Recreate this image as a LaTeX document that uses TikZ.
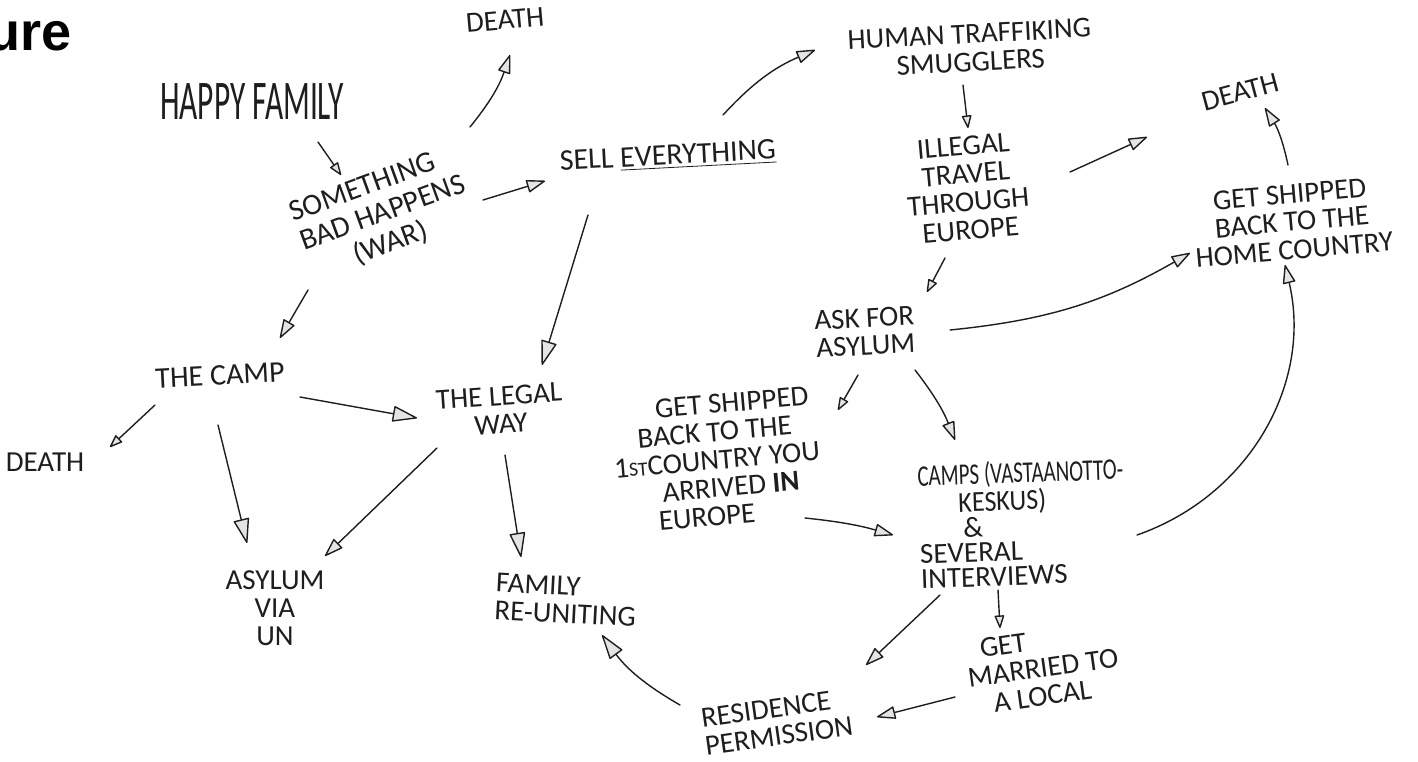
\documentclass[tikz,border=0pt]{standalone}
\usepackage{fontspec}
\usepackage{graphicx}
\usepackage{tikz}
\usetikzlibrary{arrows.meta}
\newfontfamily\handfont{Carlito}
\newfontfamily\titlefont{Liberation Sans}
\definecolor{ink}{HTML}{1E1E1E}
\definecolor{tipfill}{HTML}{E4E4E4}
\tikzset{
	hand/.style={font=\handfont\fontsize{14.5}{14}\selectfont, text=ink, align=center, inner sep=1pt},
	flow/.style={draw=ink, line width=0.7pt, line cap=round,
		-{Triangle[length=10pt,width=6.5pt,fill=tipfill,line join=round]}},
	bigflow/.style={flow, -{Triangle[length=13pt,width=8pt,fill=tipfill,line join=round]}},
	smallflow/.style={flow, -{Triangle[length=7pt,width=5pt,fill=tipfill,line join=round]}},
}
\begin{document}
\begin{tikzpicture}[x=0.5pt, y=-0.5pt]
	\useasboundingbox (0,0) rectangle (1418,761);
	\clip (0,0) rectangle (1418,761);
	\node[anchor=base east, inner sep=0pt, font=\titlefont\bfseries\fontsize{27}{27}\selectfont] (title) at (72,50) {ure};
	% left half
	\node[hand, font=\handfont\fontsize{28}{28}\selectfont, xscale=0.56] (happy) at (252,102) {HAPPY FAMILY};
	\node[hand, rotate=20, align=left, font=\handfont\fontsize{15}{15.5}\selectfont] (bad) at (383,214) {SOMETHING\\BAD HAPPENS\\\hspace*{1.5em}(WAR)};
	\node[hand, rotate=5] (death1) at (505,20) {DEATH};
	\node[hand, rotate=3, font=\handfont\fontsize{15}{15}\selectfont] (sell) at (668,157) {SELL \underline{EVERYTHING}};
	\node[hand, rotate=3, font=\handfont\fontsize{15}{15}\selectfont] (camp) at (220,375) {THE CAMP};
	\node[hand] (death3) at (45,462) {DEATH};
	\node[hand, rotate=4] (legal) at (500,410) {THE LEGAL\\WAY};
	\node[hand] (asylum) at (275,608) {ASYLUM\\VIA\\UN};
	\node[hand, rotate=-3, align=left] (family) at (566,600) {FAMILY\\RE-UNITING};
	\node[hand, rotate=8, align=left] (residence) at (777,722) {RESIDENCE\\PERMISSION};
	% right half
	\node[hand, rotate=3] (human) at (970,48) {HUMAN TRAFFIKING\\SMUGGLERS};
	\node[hand, rotate=5] (illegal) at (967,188) {ILLEGAL\\TRAVEL\\THROUGH\\EUROPE};
	\node[hand, rotate=15] (death2) at (1240,92) {DEATH};
	\node[hand, rotate=5] (home) at (1292,222) {GET SHIPPED\\BACK TO THE\\HOME COUNTRY};
	\node[hand, rotate=3] (ask) at (865,332) {ASK FOR\\ASYLUM};
	\node[hand, rotate=5, align=left] (first) at (717,460) {\hspace*{23pt}GET SHIPPED\\\hspace*{13pt}BACK TO THE\\1{\fontsize{10}{10}\selectfont ST}COUNTRY YOU\\\hspace*{23pt}ARRIVED \textbf{IN}\\\hspace*{20pt}EUROPE};
	\node[hand, rotate=2, align=left, font=\handfont\fontsize{14.5}{12.5}\selectfont] (camps) at (1022,523) {\scalebox{0.7}[1]{\fontsize{15}{12.5}\selectfont CAMPS (VASTAANOTTO-}\\\hspace*{20pt}\scalebox{0.9}[1]{KESKUS)}\\\hspace*{22pt}\&\\SEVERAL\\INTERVIEWS};
	\node[hand, rotate=8, align=left] (married) at (1043,668) {\hspace*{8pt}GET\\MARRIED TO\\\hspace*{11pt}A LOCAL};

	\draw[smallflow] ([shift={(66,40)}]happy.center) -- ([shift={(-42,-39)}]bad.center);
	\draw[flow] ([shift={(87,-87)}]bad.center) to[bend right=10] ([shift={(5,35)}]death1.center);
	\draw[flow] ([shift={(100,-14)}]bad.center) -- ([shift={(-123,24)}]sell.center);
	\draw[flow] ([shift={(-75,76)}]bad.center) -- ([shift={(60,-37)}]camp.center);
	\draw[flow] ([shift={(55,-42)}]sell.center) to[bend left=12] ([shift={(-155,2)}]human.center);
	\draw[bigflow] ([shift={(-80,58)}]sell.center) -- ([shift={(42,-45)}]legal.center);
	\draw[bigflow] ([shift={(80,22)}]camp.center) -- ([shift={(-83,8)}]legal.center);
	\draw[smallflow] ([shift={(-65,30)}]camp.center) -- ([shift={(65,-15)}]death3.center);
	\draw[bigflow] ([shift={(-2,50)}]camp.center) -- ([shift={(-28,-65)}]asylum.center);
	\draw[flow] ([shift={(-63,38)}]legal.center) -- ([shift={(50,-52)}]asylum.center);
	\draw[bigflow] ([shift={(5,45)}]legal.center) -- ([shift={(-45,-43)}]family.center);
	\draw[bigflow] ([shift={(-97,-17)}]residence.center) to[bend left=12] ([shift={(36,35)}]family.center);

	\draw[smallflow] ([shift={(-7,37)}]human.center) -- ([shift={(1,-60)}]illegal.center);
	\draw[flow] ([shift={(103,-16)}]illegal.center) -- ([shift={(-93,45)}]death2.center);
	\draw[smallflow] ([shift={(-22,70)}]illegal.center) -- ([shift={(62,-40)}]ask.center);
	\draw[flow] ([shift={(-4,-57)}]home.center) to[bend right=10] ([shift={(25,16)}]death2.center);
	\draw[flow] ([shift={(85,-2)}]ask.center) to[bend right=12] ([shift={(-102,31)}]home.center);
	\draw[smallflow] ([shift={(-7,43)}]ask.center) -- ([shift={(121,-50)}]first.center);
	\draw[flow] ([shift={(50,38)}]ask.center) to[bend left=8] ([shift={(-67,-83)}]camps.center);
	\draw[flow] ([shift={(88,58)}]first.center) to[bend left=5] ([shift={(-129,12)}]camps.center);
	\draw[flow] ([shift={(115,12)}]camps.center) to[bend right=42] ([shift={(-7,43)}]home.center);
	\draw[flow] ([shift={(-82,72)}]camps.center) -- ([shift={(89,-57)}]residence.center);
	\draw[smallflow] ([shift={(-24,67)}]camps.center) -- ([shift={(-43,-40)}]married.center);
	\draw[flow] ([shift={(-88,29)}]married.center) -- ([shift={(100,-5)}]residence.center);
\end{tikzpicture}
\end{document}
